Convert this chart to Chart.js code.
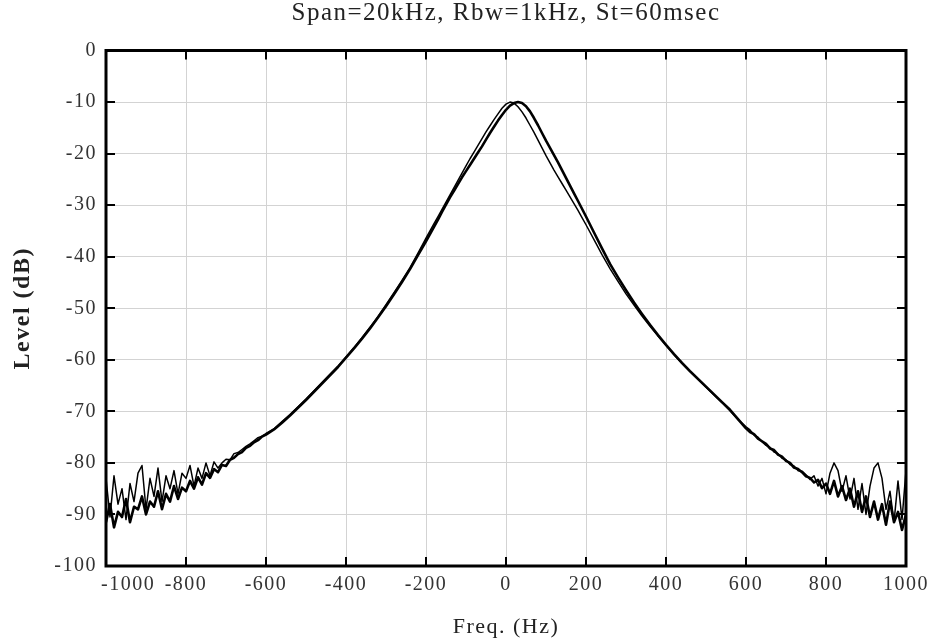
<!doctype html>
<html>
<head>
<title>Span=20kHz, Rbw=1kHz, St=60msec</title>
<script src="https://cdn.jsdelivr.net/npm/chart.js@4.4.0/dist/chart.umd.min.js"></script>
<style>
  body { margin: 0; background: #fff; }
</style>
</head>
<body>
<canvas id="chart-area" width="931" height="640"></canvas>
<script>
// frequency offsets (Hz), shared by both traces
var freqs = [
  -1000, -990, -980, -970, -960, -950, -940, -930, -920, -910,
  -900, -890, -880, -870, -860, -850, -840, -830, -820, -810,
  -800, -790, -780, -770, -760, -750, -740, -730, -720, -710,
  -700, -690, -680, -670, -660, -650, -640, -630, -620, -610, -600,
  -580, -560, -540, -520, -500, -480, -460, -440, -420, -400,
  -380, -360, -340, -320, -300, -280, -260, -240, -220,
  -200, -190, -180, -170, -160, -150, -140, -130, -120, -110,
  -100, -90, -80, -70, -60, -50, -40, -30, -20, -10,
  0, 10, 20, 30, 40, 50, 60, 70, 80, 90,
  100, 110, 120, 130, 140, 150, 160, 170, 180, 190, 200,
  220, 240, 260, 280, 300, 320, 340, 360, 380, 400,
  420, 440, 460, 480, 500, 520, 540, 560, 580,
  600, 610, 620, 630, 640, 650, 660, 670, 680, 690,
  700, 710, 720, 730, 740, 750, 760, 770, 780, 790,
  800, 810, 820, 830, 840, 850, 860, 870, 880, 890,
  900, 910, 920, 930, 940, 950, 960, 970, 980, 990, 1000
];

// thin trace (dB)
var levelThin = [
  -83.0, -90.5, -82.5, -88.0, -85.0, -91.0, -84.0, -87.5, -82.0, -80.5,
  -89.0, -83.0, -86.5, -81.0, -87.5, -82.5, -85.0, -81.5, -86.0, -82.0,
  -83.0, -80.5, -84.5, -81.0, -83.0, -80.0, -82.5, -79.8, -81.0, -80.0,
  -79.3, -79.4, -78.2, -78.0, -77.4, -76.8, -76.3, -75.7, -75.1, -74.8, -74.3,
  -73.4, -72.0, -70.6, -69.1, -67.6, -66.0, -64.4, -62.8, -61.2, -59.4,
  -57.6, -55.7, -53.7, -51.6, -49.3, -47.0, -44.6, -42.1, -39.3,
  -36.4, -35.0, -33.6, -32.2, -30.8, -29.4, -28.0, -26.6, -25.2, -23.8,
  -22.4, -21.0, -19.7, -18.4, -17.1, -15.8, -14.6, -13.4, -12.3, -11.2,
  -10.4, -10.0, -10.2, -10.9, -11.9, -13.1, -14.5, -15.9, -17.4, -18.9,
  -20.4, -21.8, -23.2, -24.5, -25.8, -27.1, -28.4, -29.7, -31.0, -32.4, -33.8,
  -36.7, -39.6, -42.3, -44.8, -47.2, -49.4, -51.5, -53.5, -55.4, -57.2,
  -59.0, -60.7, -62.3, -63.8, -65.3, -66.8, -68.3, -69.9, -71.6,
  -73.0, -73.6, -74.6, -75.0, -75.9, -76.6, -77.0, -77.9, -78.2, -79.1,
  -79.4, -80.3, -80.6, -81.5, -81.6, -82.3, -83.2, -82.5, -84.5, -83.0,
  -86.0, -82.0, -80.0, -81.5, -85.5, -82.5, -87.0, -83.0, -89.0, -84.0,
  -90.0, -84.5, -81.0, -80.0, -83.0, -89.0, -85.5, -91.5, -83.5, -91.0, -81.5
];

// thick trace (dB)
var levelThick = [
  -91.5, -88.0, -92.5, -89.5, -90.5, -87.0, -91.5, -88.5, -89.0, -86.5,
  -90.0, -87.5, -88.5, -85.5, -89.0, -86.0, -87.5, -84.5, -87.0, -84.8,
  -85.5, -83.5, -85.0, -82.8, -84.2, -82.0, -82.9, -81.2, -81.8, -80.4,
  -80.6, -79.4, -79.0, -78.3, -77.9, -77.1, -76.7, -76.0, -75.6, -74.9, -74.5,
  -73.5, -72.2, -70.8, -69.3, -67.8, -66.2, -64.6, -63.0, -61.4, -59.6,
  -57.8, -55.9, -53.9, -51.8, -49.6, -47.3, -44.9, -42.4, -39.7,
  -37.0, -35.6, -34.2, -32.8, -31.3, -29.9, -28.5, -27.2, -25.9, -24.6,
  -23.4, -22.2, -21.0, -19.8, -18.6, -17.3, -16.0, -14.8, -13.6, -12.5,
  -11.5, -10.7, -10.2, -10.0, -10.2, -10.8, -11.8, -13.1, -14.5, -16.0,
  -17.5, -18.9, -20.3, -21.7, -23.2, -24.7, -26.2, -27.7, -29.2, -30.7, -32.2,
  -35.3, -38.4, -41.4, -44.0, -46.5, -48.9, -51.1, -53.2, -55.2, -57.1,
  -58.9, -60.6, -62.2, -63.7, -65.2, -66.7, -68.2, -69.7, -71.5,
  -73.3, -74.0, -74.4, -75.3, -75.8, -76.3, -77.2, -77.5, -78.4, -78.8,
  -79.6, -80.0, -80.9, -81.2, -81.8, -82.6, -82.9, -83.8, -83.3, -84.9,
  -84.0, -86.0, -83.5, -86.5, -84.5, -87.2, -85.0, -88.5, -85.5, -89.5,
  -86.5, -90.5, -87.5, -91.0, -88.0, -92.0, -87.5, -91.5, -89.5, -93.0, -90.0
];

var xTickValues = [-1000, -800, -600, -400, -200, 0, 200, 400, 600, 800, 1000];

function toPoints(ys) {
  return freqs.map(function(f, i) { return { x: f, y: ys[i] }; });
}

var serif = 'Liberation Serif, Times New Roman, serif';

// frame, inward tick marks and the x tick labels
var framePlugin = {
  id: 'frame',
  beforeDraw: function(chart) {
    chart.ctx.letterSpacing = '1.5px';
  },
  afterDatasetsDraw: function(chart) {
    var ctx = chart.ctx, a = chart.chartArea;
    var xs = chart.scales.x, ys = chart.scales.y;
    ctx.save();
    ctx.strokeStyle = '#000';
    ctx.lineWidth = 2;
    ctx.beginPath();
    xTickValues.forEach(function(v) {
      if (v <= xs.min || v >= xs.max) return;
      var px = Math.round(xs.getPixelForValue(v));
      ctx.moveTo(px, a.bottom); ctx.lineTo(px, a.bottom - 9);
      ctx.moveTo(px, a.top); ctx.lineTo(px, a.top + 9);
    });
    ys.ticks.forEach(function(t) {
      if (t.value <= ys.min || t.value >= ys.max) return;
      var py = Math.round(ys.getPixelForValue(t.value));
      ctx.moveTo(a.left, py); ctx.lineTo(a.left + 9, py);
      ctx.moveTo(a.right, py); ctx.lineTo(a.right - 9, py);
    });
    ctx.stroke();
    ctx.lineWidth = 3;
    ctx.strokeRect(a.left, a.top, a.right - a.left, a.bottom - a.top);

    ctx.font = '20px ' + serif;
    ctx.fillStyle = '#333';
    ctx.textBaseline = 'middle';
    xTickValues.forEach(function(v, i) {
      var px = xs.getPixelForValue(v);
      if (i === 0) {
        ctx.textAlign = 'left';
        px -= 5;
      } else {
        ctx.textAlign = 'center';
      }
      ctx.fillText(String(v), px, a.bottom + 19);
    });
    ctx.restore();
  }
};

var config = {
  type: 'scatter',
  data: {
    datasets: [{
      label: 'thin',
      data: toPoints(levelThin),
      showLine: true,
      borderColor: '#000',
      borderWidth: 1.5,
      pointRadius: 0,
      tension: 0,
      borderJoinStyle: 'round'
    }, {
      label: 'thick',
      data: toPoints(levelThick),
      showLine: true,
      borderColor: '#000',
      borderWidth: 2.6,
      pointRadius: 0,
      tension: 0,
      borderJoinStyle: 'round'
    }]
  },
  options: {
    responsive: false,
    animation: false,
    events: [],
    layout: { padding: { left: 0, right: 25, top: 0, bottom: 0 } },
    plugins: {
      legend: { display: false },
      tooltip: { enabled: false },
      title: {
        display: true,
        fullSize: false,
        text: 'Span=20kHz, Rbw=1kHz, St=60msec',
        color: '#222',
        font: { family: serif, size: 25, weight: 'normal', lineHeight: 1.04 },
        padding: { top: 0, bottom: 24.5 }
      }
    },
    scales: {
      x: {
        type: 'linear',
        min: -1000,
        max: 1000,
        afterFit: function(s) { s.height = 74; },
        border: { display: false },
        grid: { color: '#d3d3d3', lineWidth: 1, drawTicks: false },
        ticks: { stepSize: 200, display: false },
        title: {
          display: true,
          text: 'Freq. (Hz)',
          color: '#222',
          font: { family: serif, size: 22 },
          padding: { top: 0, bottom: 0 }
        }
      },
      y: {
        type: 'linear',
        min: -100,
        max: 0,
        afterFit: function(s) { s.width = 106; },
        border: { display: false },
        grid: { color: '#d3d3d3', lineWidth: 1, drawTicks: false },
        ticks: {
          stepSize: 10,
          padding: 9,
          color: '#333',
          font: { family: serif, size: 20 }
        },
        title: {
          display: true,
          text: 'Level (dB)',
          color: '#222',
          font: { family: serif, size: 24, weight: 'bold' },
          padding: { top: 8, bottom: 0 }
        }
      }
    }
  },
  plugins: [framePlugin]
};

window.onload = function() {
  var ctx = document.getElementById('chart-area').getContext('2d');
  window.levelChart = new Chart(ctx, config);
};
</script>
</body>
</html>
